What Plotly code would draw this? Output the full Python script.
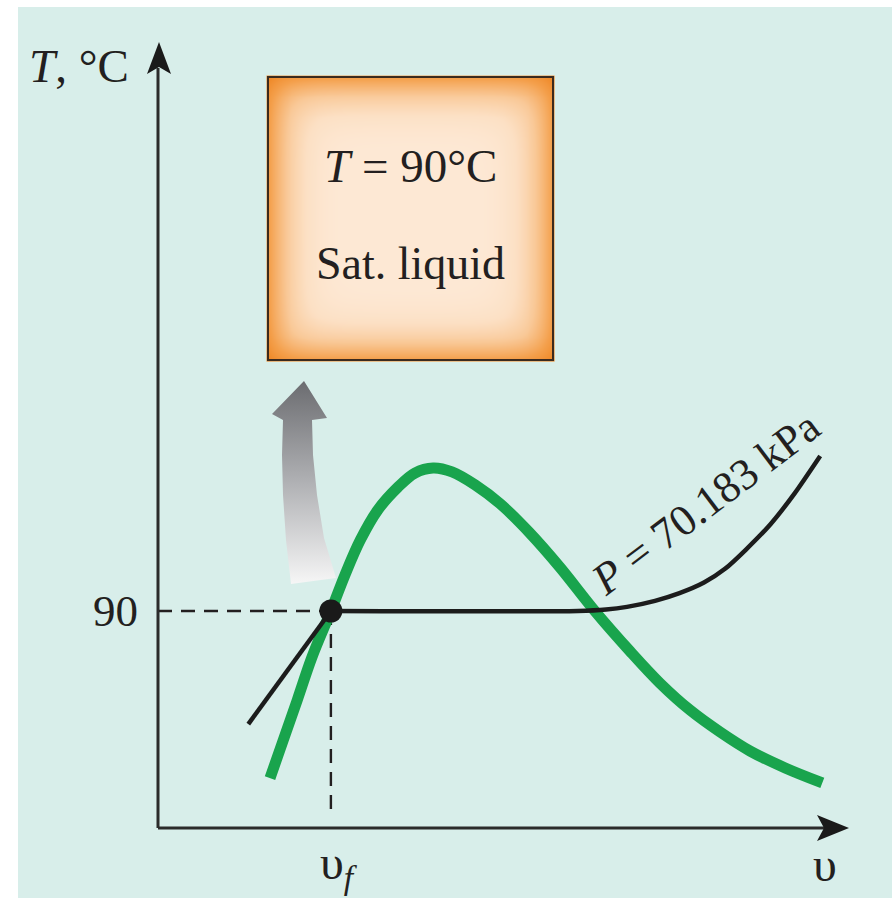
import numpy as np
import plotly.graph_objects as go

W, H = 895, 898
# calibration of the schematic axes (pixel <-> data)
X0, KX = 158, 7.0          # v = 0 at the T axis, 7 px per v-unit
Y0, KY = 828, 217 / 90     # T = 0 at the v axis, T = 90 at y = 611 px


def vx(px):
    return (px - X0) / KX


def ty(py):
    return (Y0 - py) / KY


# ---------------- data ----------------
T_SAT = 90
V_F = 24.7

dome_v = [16.0, 17.9, 19.9, 22.0, 24.7, 26.7, 28.9, 31.4, 34.3, 36.7, 39.3, 42.0,
          45.3, 48.9, 53.1, 57.4, 62.4, 67.4, 71.7, 76.0, 80.3, 84.6, 89.6, 94.9]
dome_T = [20.7, 36.5, 53.1, 70.9, 90.0, 104.9, 119.4, 131.9, 141.4, 147.2, 149.3, 147.7,
          142.3, 134.4, 122.4, 108.2, 90.0, 73.4, 60.1, 48.9, 39.8, 31.9, 24.9, 18.7]

liq_v = [12.9, 24.7]
liq_T = [43.1, 90.0]
isobar_v = [24.7, 60.0, 64.0, 67.0, 71.0, 74.5, 78.0, 81.0, 84.0, 87.5, 91.0, 94.6]
isobar_T = [90.0, 90.0, 90.6, 91.7, 94.2, 97.4, 101.8, 107.5, 115.5, 126.0, 139.0, 154.3]

box_lines = ["<i>T</i> = 90°C", "Sat. liquid"]
p_label = "<i>P</i> = 70.183 kPa"
y_label = "<i>T</i>, °C"
tick_T = "90"
tick_v = "υ<sub><i>f</i></sub>"
x_label = "υ"

INK = "#231f20"
FONT = "Liberation Serif"
GREEN = "#19a44d"
TEAL = "#d8eeea"

fig = go.Figure()

# ---- orange box with inner glow (heatmap) ----
nx, ny = 100, 100
bx0, bx1, by0, by1 = 268, 553, 77, 360
pxs = np.linspace(bx0, bx1, nx)
pys = np.linspace(by1, by0, ny)
PX, PY = np.meshgrid(pxs, pys)
dists = np.stack([PX - bx0, bx1 - PX, PY - by0, by1 - PY])
k = 14.0
d = -k * np.log(np.exp(-dists / k).sum(axis=0))
z = np.clip((d + 10) / 85.0, 0, 1)
z = 1 - (1 - z) ** 2
fig.add_trace(go.Heatmap(
    x=[vx(p) for p in pxs], y=[ty(p) for p in pys], z=z,
    colorscale=[[0, "#ee8420"], [0.25, "#f4a04c"], [0.55, "#f9c998"], [0.8, "#fce0c4"], [1, "#fde8d4"]],
    zmin=0, zmax=1, showscale=False, zsmooth="best", hoverinfo="skip"))

# ---- gray curved arrow ----
arrow_px = [291, 286, 283, 282, 283, 272, 304, 327, 312, 313, 317, 324, 336, 291]
arrow_py = [584, 540, 495, 455, 420, 414, 381, 418, 420, 455, 495, 538, 578, 584]
fig.add_trace(go.Scatter(
    x=[vx(p) for p in arrow_px], y=[ty(p) for p in arrow_py],
    mode="lines", fill="toself", line=dict(width=0, color="rgba(0,0,0,0)"),
    fillgradient=dict(type="vertical",
                      colorscale=[[0, "#f6f6f6"], [0.5, "#b0b1b4"], [1, "#6b6c70"]]),
    hoverinfo="skip", showlegend=False))

# ---- dashed guide lines ----
dash = "14px,9px"
fig.add_trace(go.Scatter(x=[0, V_F], y=[T_SAT, T_SAT], mode="lines",
                         line=dict(color=INK, width=2.4, dash=dash), showlegend=False))
fig.add_trace(go.Scatter(x=[V_F, V_F], y=[T_SAT, ty(818)], mode="lines",
                         line=dict(color=INK, width=2.4, dash=dash), showlegend=False))

# ---- saturation dome ----
fig.add_trace(go.Scatter(x=dome_v, y=dome_T, mode="lines",
                         line=dict(color=GREEN, width=11, shape="spline", smoothing=1.0),
                         showlegend=False))

# ---- isobar ----
fig.add_trace(go.Scatter(x=liq_v, y=liq_T, mode="lines",
                         line=dict(color="#1c1c1c", width=4.5), showlegend=False))
fig.add_trace(go.Scatter(x=isobar_v, y=isobar_T, mode="lines",
                         line=dict(color="#1c1c1c", width=4.5, shape="spline", smoothing=0.6),
                         showlegend=False))

# ---- state point ----
fig.add_trace(go.Scatter(x=[V_F], y=[T_SAT], mode="markers",
                         marker=dict(size=23, color="#1a1a1a"), showlegend=False))

shapes = []
# background panel
shapes.append(dict(type="rect", xref="x", yref="y", layer="below",
                   x0=vx(18), x1=vx(892), y0=ty(898), y1=ty(7),
                   fillcolor=TEAL, line=dict(width=0)))
# box border
shapes.append(dict(type="rect", xref="x", yref="y", layer="above",
                   x0=vx(bx0), x1=vx(bx1), y0=ty(by1), y1=ty(by0),
                   fillcolor="rgba(0,0,0,0)", line=dict(color="#3b2a1e", width=2)))
# axes
AX = "#2b2b2b"
shapes.append(dict(type="line", xref="x", yref="y", x0=0, y0=0, x1=0, y1=ty(68),
                   line=dict(color=AX, width=3)))
shapes.append(dict(type="line", xref="x", yref="y", x0=0, y0=0, x1=vx(826), y1=0,
                   line=dict(color=AX, width=3)))


def path(pts):
    s = "M " + " L ".join(f"{vx(a):.4f},{ty(b):.4f}" for a, b in pts) + " Z"
    return s


shapes.append(dict(type="path", xref="x", yref="y",
                   path=path([(159, 42), (147, 74), (159, 67), (171, 74)]),
                   fillcolor="#1a1a1a", line=dict(width=0)))
shapes.append(dict(type="path", xref="x", yref="y",
                   path=path([(849, 828), (817, 815), (824, 828), (817, 841)]),
                   fillcolor="#1a1a1a", line=dict(width=0)))

annotations = [
    dict(x=vx(131), y=ty(66), text=y_label, xanchor="right", yanchor="middle",
         showarrow=False, font=dict(family=FONT, size=47, color=INK)),
    dict(x=vx(410), y=ty(166), text=box_lines[0], xanchor="center", yanchor="middle",
         showarrow=False, font=dict(family=FONT, size=47, color=INK)),
    dict(x=vx(410), y=ty(263), text=box_lines[1], xanchor="center", yanchor="middle",
         showarrow=False, font=dict(family=FONT, size=46, color=INK)),
    dict(x=vx(140), y=T_SAT, text=tick_T, xanchor="right", yanchor="middle",
         showarrow=False, font=dict(family=FONT, size=45, color=INK)),
    dict(x=V_F + vx(339) - vx(331), y=ty(866), text=tick_v, xanchor="center", yanchor="middle",
         showarrow=False, font=dict(family=FONT, size=48, color=INK)),
    dict(x=vx(825), y=ty(864), text=x_label, xanchor="center", yanchor="middle",
         showarrow=False, font=dict(family=FONT, size=48, color=INK)),
    dict(x=vx(705), y=ty(503), text=p_label, xanchor="center", yanchor="middle",
         textangle=-37, showarrow=False, font=dict(family=FONT, size=44, color=INK)),
]

fig.update_layout(
    width=W, height=H, autosize=False,
    margin=dict(l=0, r=0, t=0, b=0, pad=0),
    paper_bgcolor="white", plot_bgcolor="white",
    xaxis=dict(range=[vx(0), vx(W)], visible=False, fixedrange=True),
    yaxis=dict(range=[ty(H), ty(0)], visible=False, fixedrange=True),
    shapes=shapes, annotations=annotations, showlegend=False,
)

fig.write_html("out.html", config={"displayModeBar": False},
               post_script="document.body.style.margin='0';document.body.style.overflow='hidden';")
